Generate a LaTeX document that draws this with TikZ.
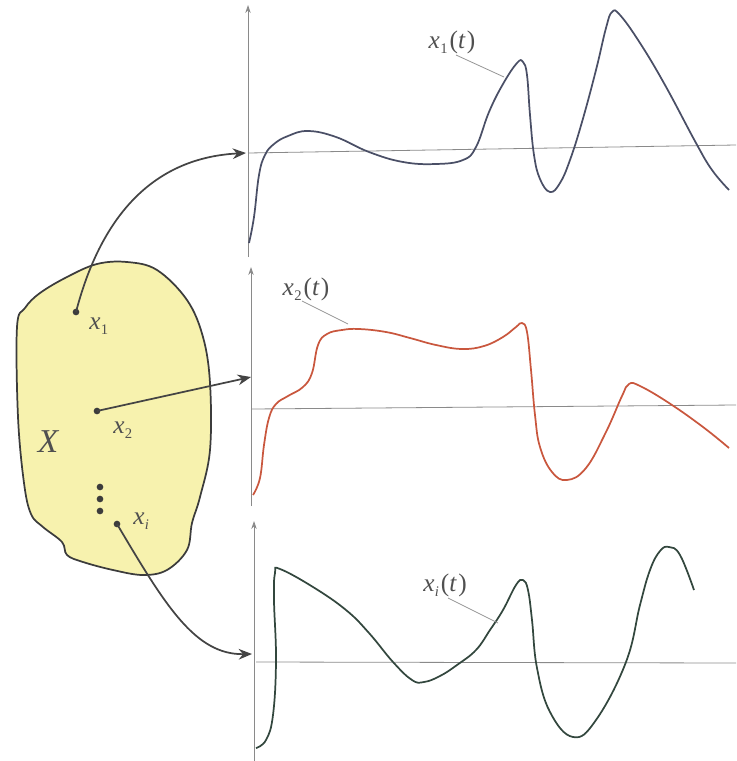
\documentclass[tikz,border=0pt]{standalone}
\usepackage{fontspec}
\setmainfont{Liberation Serif}
\usetikzlibrary{arrows.meta}
\definecolor{blobfill}{HTML}{F7F2AE}
\definecolor{blobline}{HTML}{3C3C3C}
\definecolor{arrcol}{HTML}{444444}
\definecolor{axcol}{HTML}{8A8A8A}
\definecolor{cA}{HTML}{4A4F66}
\definecolor{cB}{HTML}{C9573E}
\definecolor{cC}{HTML}{33473E}
\definecolor{txt}{HTML}{505050}
\newcommand{\xlab}[1]{\textit{x}\kern0.3pt\raisebox{-0.45ex}{\fontsize{11}{11}\selectfont #1}}
\newcommand{\xtlab}[1]{\xlab{#1}\kern1.5pt(\textit{t}\kern1pt)}
\tikzset{
  axis/.style={draw=axcol, line width=0.6pt},
  axisarrow/.style={axis, -{Stealth[length=6pt,width=4pt]}},
  map/.style={draw=arrcol, line width=1.3pt, -{Stealth[length=10pt,width=8pt]}},
  sig/.style={line width=1.3pt, smooth, tension=0.7},
  leader/.style={draw=axcol!90, line width=0.6pt},
  lab/.style={text=txt, font=\fontsize{19}{19}\selectfont, inner sep=0pt},
  dot/.style={circle, fill=blobline, inner sep=0pt, minimum size=5pt}
}
\begin{document}
\begin{tikzpicture}[x=0.75pt,y=-0.75pt]
\useasboundingbox (0,0) rectangle (736,761);
% blob
\draw[fill=blobfill, draw=blobline, line width=1.3pt]
  plot[smooth cycle, tension=0.6] coordinates {
  (127,262) (157,270) (187,300) (203,337) (210,383) (210,450) (200,497)
  (192,523) (187,550) (167,570) (143,575) (113,570) (83,562) (67,555)
  (62,542) (43,527) (31,514) (24,483) (18,417) (17,327) (25,308) (40,293)
  (67,277) (97,264)};
% points in X
\node[dot] (p1) at (76,312) {};
\node[dot] (p2) at (97,411) {};
\node[dot] (pi) at (117,524) {};
\node[dot] (d1) at (100,487) {};
\node[dot] (d2) at (100,499) {};
\node[dot] (d3) at (100,511) {};
\node[lab, anchor=west] (l1) at (89,326) {\xlab{1}};
\node[lab, anchor=west] (l2) at (113,430) {\xlab{2}};
\node[lab, anchor=west] (li) at (133,521) {\xlab{\textit{i}}};
\node[lab, font=\fontsize{25}{25}\selectfont\itshape] (lX) at (48,442) {X};
% axes
\coordinate (v1b) at (248,257); \coordinate (v1t) at (248,5);
\coordinate (h1a) at (248,153); \coordinate (h1b) at (736,145);
\coordinate (v2b) at (251,506); \coordinate (v2t) at (251,267);
\coordinate (h2a) at (252,409); \coordinate (h2b) at (736,405);
\coordinate (v3b) at (254,761); \coordinate (v3t) at (254,521);
\coordinate (h3a) at (256,662); \coordinate (h3b) at (736,663);
\draw[axisarrow] (v1b) -- (v1t);
\draw[axis] (h1a) -- (h1b);
\draw[axisarrow] (v2b) -- (v2t);
\draw[axis] (h2a) -- (h2b);
\draw[axisarrow] (v3b) -- (v3t);
\draw[axis] (h3a) -- (h3b);
% signals
\draw[sig, draw=cA] plot coordinates {
 (249,243) (254,217) (259,175) (265,155) (274,144) (288,136) (308,131)
 (336,137) (369,152) (403,162) (436,164) (463,160) (476,147) (489,112)
 (503,84) (517,63) (523,62) (527,75) (530,115) (534,155) (540,179)
 (550,192) (560,183) (570,160) (582,122) (596,70) (606,28) (612,12)
 (620,15) (640,43) (665,85) (696,143) (712,170) (729,190)};
\draw[sig, draw=cB] plot coordinates {
 (253,495) (260,478) (264,445) (269,418) (276,404) (288,396) (303,387)
 (312,373) (318,345) (327,334) (342,330) (359,329) (386,332) (410,338)
 (436,345) (462,349) (484,346) (503,337) (516,327) (522,323) (527,332)
 (531,370) (535,415) (540,447) (552,472) (567,480) (586,468) (606,432)
 (622,396) (629,384) (640,386) (669,403) (703,427) (729,448)};
\draw[sig, draw=cC] plot coordinates {
 (256,748) (266,740) (273,715) (276,660) (274,600) (275,573) (280,569)
 (313,587) (346,610) (369,633) (393,662) (412,680) (424,682) (440,676)
 (457,665) (476,650) (490,630) (503,610) (516,585) (523,580) (528,590)
 (532,620) (537,668) (550,712) (573,737) (596,720) (626,662) (640,605)
 (650,570) (660,551) (669,547) (680,555) (694,590)};
% signal labels
\node[lab] (t1) at (452,42) {\xtlab{1}};
\coordinate (t1e) at (504,77);
\draw[leader] (456,55) -- (t1e);
\node[lab] (t2) at (306,289) {\xtlab{2}};
\coordinate (t2e) at (348,324);
\draw[leader] (302,301) -- (t2e);
\node[lab] (ti) at (445,585) {\xtlab{\textit{i}}};
\coordinate (tie) at (498,623);
\draw[leader] (448,598) -- (tie);
% mapping arrows
\coordinate (a1) at (246,153);
\coordinate (a2) at (251,377);
\coordinate (a3) at (252,654);
\draw[map] (p1.center) .. controls (100,220) and (150,158) .. (a1);
\draw[map] (p2.center) -- (a2);
\draw[map] (pi.center) .. controls (165,605) and (195,655) .. (a3);
\end{tikzpicture}
\end{document}
